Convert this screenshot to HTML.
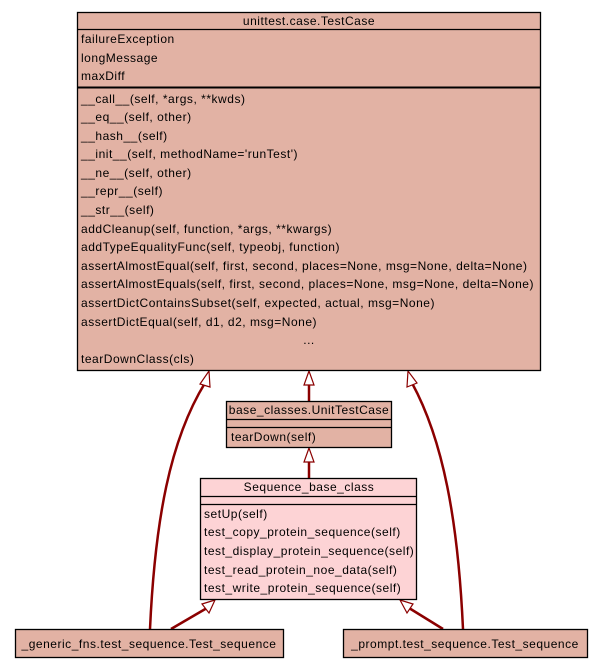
<!DOCTYPE html>
<html><head><meta charset="utf-8"><style>
html,body{margin:0;padding:0;background:#fff;}
svg{display:block;}
text{font-family:"Liberation Sans",sans-serif;font-size:12px;letter-spacing:0.52px;fill:#000;}
</style></head><body>
<svg width="603" height="669" viewBox="0 0 603 669" xmlns="http://www.w3.org/2000/svg">
<rect width="603" height="669" fill="#fff"/>
<g stroke="#8b0000" stroke-width="2.5" fill="none">
<path d="M150,629 C155,520 170,440 205,383"/>
<path d="M463,629 C458,520 443,440 412,383"/>
<line x1="309" y1="401" x2="309" y2="384"/>
<line x1="309" y1="478" x2="309" y2="461"/>
<line x1="171" y1="629" x2="207" y2="608"/>
<line x1="443" y1="629" x2="409" y2="608"/>
</g>
<g stroke="#8b0000" stroke-width="1.2" fill="#fff">
<polygon points="209,371 200,384 210,387"/>
<polygon points="408,371 407,387 417,383"/>
<polygon points="309,371 304,385 314,385"/>
<polygon points="309,448 304,462 314,462"/>
<polygon points="215,600 202,604 209,613"/>
<polygon points="400,600 407,613 413,604"/>
</g>
<rect x="77.5" y="12.5" width="463" height="358" fill="#e2b2a4" stroke="#000" stroke-width="1.3"/>
<line x1="77" y1="29.5" x2="541" y2="29.5" stroke="#000" stroke-width="1.3"/>
<line x1="77" y1="87.5" x2="541" y2="87.5" stroke="#000" stroke-width="2"/>
<text x="309" y="25" text-anchor="middle">unittest.case.TestCase</text>
<text x="81" y="43">failureException</text>
<text x="81" y="62">longMessage</text>
<text x="81" y="80">maxDiff</text>
<text x="81" y="103">__call__(self, *args, **kwds)</text>
<text x="81" y="121">__eq__(self, other)</text>
<text x="81" y="140">__hash__(self)</text>
<text x="81" y="158">__init__(self, methodName='runTest')</text>
<text x="81" y="177">__ne__(self, other)</text>
<text x="81" y="195">__repr__(self)</text>
<text x="81" y="214">__str__(self)</text>
<text x="81" y="233">addCleanup(self, function, *args, **kwargs)</text>
<text x="81" y="251">addTypeEqualityFunc(self, typeobj, function)</text>
<text x="81" y="270">assertAlmostEqual(self, first, second, places=None, msg=None, delta=None)</text>
<text x="81" y="288">assertAlmostEquals(self, first, second, places=None, msg=None, delta=None)</text>
<text x="81" y="307">assertDictContainsSubset(self, expected, actual, msg=None)</text>
<text x="81" y="326">assertDictEqual(self, d1, d2, msg=None)</text>
<text x="309" y="344" text-anchor="middle">...</text>
<text x="81" y="363">tearDownClass(cls)</text>
<rect x="226.5" y="401.5" width="165" height="46" fill="#e2b2a4" stroke="#000" stroke-width="1.3"/>
<line x1="226" y1="419.5" x2="392" y2="419.5" stroke="#000" stroke-width="1.3"/>
<line x1="226" y1="427.5" x2="392" y2="427.5" stroke="#000" stroke-width="1.3"/>
<text x="309" y="414" text-anchor="middle">base_classes.UnitTestCase</text>
<text x="231" y="441">tearDown(self)</text>
<rect x="200.5" y="478.5" width="216" height="121" fill="#fdd3d5" stroke="#000" stroke-width="1.3"/>
<line x1="200" y1="496.5" x2="417" y2="496.5" stroke="#000" stroke-width="1.3"/>
<line x1="200" y1="504.5" x2="417" y2="504.5" stroke="#000" stroke-width="1.3"/>
<text x="309" y="491" text-anchor="middle">Sequence_base_class</text>
<text x="204" y="518">setUp(self)</text>
<text x="204" y="536">test_copy_protein_sequence(self)</text>
<text x="204" y="555">test_display_protein_sequence(self)</text>
<text x="204" y="574">test_read_protein_noe_data(self)</text>
<text x="204" y="592">test_write_protein_sequence(self)</text>
<rect x="15.5" y="629.5" width="268" height="28" fill="#e2b2a4" stroke="#000" stroke-width="1.3"/>
<text x="149" y="648" text-anchor="middle">_generic_fns.test_sequence.Test_sequence</text>
<rect x="343.5" y="629.5" width="244" height="28" fill="#e2b2a4" stroke="#000" stroke-width="1.3"/>
<text x="465" y="648" text-anchor="middle">_prompt.test_sequence.Test_sequence</text>
</svg>
</body></html>
